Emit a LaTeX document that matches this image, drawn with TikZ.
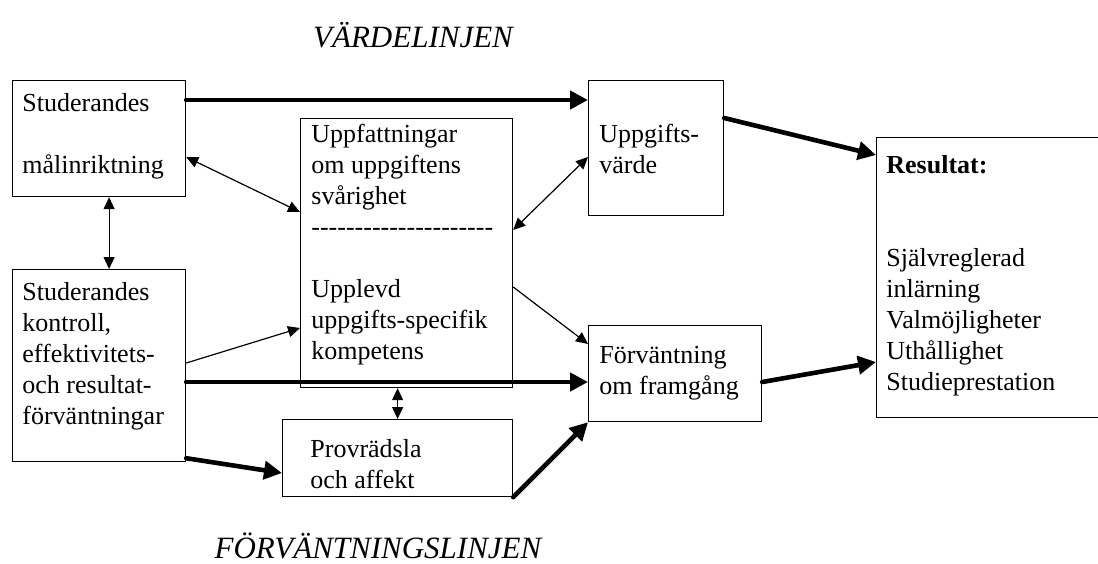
\documentclass[tikz,border=0pt]{standalone}
\usepackage{fontspec}
\setmainfont{Liberation Serif}
\usetikzlibrary{arrows.meta}

\newcommand{\brodtext}{\fontsize{13}{15.5}\selectfont}
\newcommand{\rubrik}{\fontsize{15.5}{18}\selectfont\itshape}
\newcommand{\streck}{-{}-{}-{}-{}-{}-{}-{}-{}-{}-{}-{}-{}-{}-{}-{}-{}-{}-{}-{}-{}-{}}

\tikzset{
    box/.style={draw, line width=0.6pt, anchor=north west, inner sep=0pt},
    txt/.style={anchor=north west, align=left, inner sep=0pt, font=\brodtext},
    lnk/.style={line width=0.6pt, -{Triangle[length=6pt,width=5.5pt]}},
    dlnk/.style={line width=0.6pt, {Triangle[length=6pt,width=5.5pt]}-{Triangle[length=6pt,width=5.5pt]}},
    main/.style={line width=2.3pt, line cap=round, -{Triangle[length=9pt,width=9pt]}}
}

\begin{document}
\begin{tikzpicture}[x=0.5pt, y=-0.5pt]
    \clip (0,0) rectangle (1098,563);

    % Rubriker
    \node[font=\rubrik, anchor=base] (vlinje) at (413,47) {VÄRDELINJEN};
    \node[font=\rubrik, anchor=base] (flinje) at (378,558) {FÖRVÄNTNINGSLINJEN};

    % Rutor
    \node[box, minimum width=86.5pt, minimum height=58pt] (goal) at (12,80) {};
    \node[box, minimum width=86.5pt, minimum height=96pt] (ctrl) at (12,269) {};
    \node[box, minimum width=106pt, minimum height=134.5pt] (perc) at (300,118) {};
    \node[box, minimum width=67.5pt, minimum height=67.5pt] (value) at (588,80) {};
    \node[box, minimum width=86.5pt, minimum height=48pt] (expect) at (588,325) {};
    \node[box, minimum width=115pt, minimum height=38.5pt] (anx) at (282,419) {};
    \node[box, minimum width=117pt, minimum height=140pt] (result) at (876,137) {};

    % Texter
    \node[txt] (goal-t) at (22,89.3) {\strut Studerandes\\[15.5pt]målinriktning};
    \node[txt] (ctrl-t) at (22,278.3) {\strut Studerandes\\kontroll,\\effektivitets-\\och resultat-\\förväntningar};
    \node[txt] (perc-t) at (311,120.3) {\strut Uppfattningar\\om uppgiftens\\svårighet\\\streck\\[15.5pt]Upplevd\\uppgifts-specifik\\kompetens};
    \node[txt] (value-t) at (599,120.3) {\strut Uppgifts-\\värde};
    \node[txt] (expect-t) at (599,341.3) {\strut Förväntning\\om framgång};
    \node[txt] (anx-t) at (310,435.3) {\strut Provrädsla\\och affekt};
    \node[txt] (result-t) at (886,151.3) {\strut\textbf{Resultat:}\\[31pt]Självreglerad\\inlärning\\Valmöjligheter\\Uthållighet\\Studieprestation};

    % Samband
    \draw[main] ([yshift=-10pt]goal.north east) -- ([yshift=-10pt]value.north west);
    \draw[main] ([yshift=-19pt]value.north east) -- ([yshift=-9pt]result.north west);
    \draw[dlnk] ([yshift=-38.5pt]goal.north east) -- ([yshift=-47pt]perc.north west);
    \draw[dlnk] ([xshift=5pt]goal.south) -- ([xshift=5pt]ctrl.north);
    \draw[lnk] ([yshift=-47pt]ctrl.north east) -- ([yshift=-105pt]perc.north west);
    \draw[main] ([yshift=-56.5pt]ctrl.north east) -- ([yshift=-28.5pt]expect.north west);
    \draw[main] ([yshift=2pt]ctrl.south east) -- ([yshift=-27pt]anx.north west);
    \draw[dlnk] ([yshift=-38.5pt]value.north west) -- ([yshift=-56pt]perc.north east);
    \draw[lnk] ([yshift=-84.5pt]perc.north east) -- ([yshift=-9.5pt]expect.north west);
    \draw[main] (anx.south east) -- (expect.south west);
    \draw[main] ([yshift=-28.5pt]expect.north east) -- ([yshift=-112.5pt]result.north west);
    \draw[dlnk] (anx.north |- perc.south) -- (anx.north);
\end{tikzpicture}
\end{document}
